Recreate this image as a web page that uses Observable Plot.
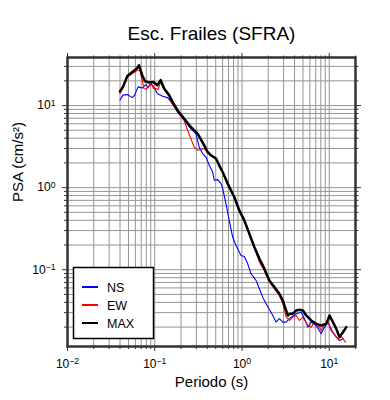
<!DOCTYPE html>
<html><head><meta charset="utf-8">
<script src="https://cdn.jsdelivr.net/npm/d3@7"></script>
<script src="https://cdn.jsdelivr.net/npm/@observablehq/plot@0.6"></script>
<style>body{margin:0;background:#fff;}</style>
</head><body><div id="chart"></div>
<script>
const title = "Esc. Frailes (SFRA)";
const xLabel = "Periodo (s)";
const yLabel = "PSA (cm/s²)";
const seriesNames = ["NS", "EW", "MAX"];
const seriesColors = ["#0000ff", "#ff0000", "#000000"];
const seriesWidths = [1.1, 1.1, 2.5];

const nsPeriod = [0.0399,0.0432,0.0486,0.0554,0.0589,0.0643,0.0722,0.0788,0.0838,0.0900,0.0966,0.107,0.123,0.140,0.160,0.182,0.217,0.259,0.296,0.323,0.353,0.386,0.421,0.461,0.481,0.526,0.574,0.600,0.655,0.714,0.782,0.853,0.974,1.063,1.163,1.269,1.449,1.581,1.729,1.887,2.154,2.459,2.68,2.94,3.21,3.35,3.66,4.18,4.77,5.20,5.69,6.21,7.09,8.09,8.83,9.66,10.54,12.03,13.13,14.36];
const nsPSA = [11.6,13.4,13.6,12.5,13.4,16.9,16.4,18.0,16.6,18.2,17.2,14.0,13.0,12.5,10.6,8.36,6.62,5.24,4.56,3.13,2.60,2.36,1.87,1.55,1.228,1.252,1.119,0.980,0.638,0.399,0.250,0.198,0.149,0.145,0.118,0.0893,0.0741,0.0586,0.0463,0.0385,0.0304,0.0230,0.0253,0.0230,0.0230,0.0241,0.0264,0.0291,0.0304,0.0253,0.0200,0.0230,0.0209,0.0166,0.0200,0.0230,0.0182,0.0151,0.0137,0.0144];

const ewPeriod = [0.0399,0.0432,0.0486,0.0554,0.0633,0.0678,0.0753,0.0809,0.086,0.0917,0.0966,0.103,0.109,0.117,0.128,0.146,0.153,0.190,0.217,0.238,0.259,0.283,0.310,0.338,0.369,0.403,0.440,0.503,0.548,0.600,0.685,0.816,0.931,1.063,1.213,1.385,1.581,1.804,2.06,2.35,2.68,2.94,3.21,3.51,3.83,4.18,4.56,4.99,5.69,6.21,6.78,7.42,8.09,8.83,9.66,11.03,12.59,13.74,15.39];
const ewPSA = [14.0,16.3,22.3,24.5,26.9,26.9,16.1,15.8,17.7,18.5,16.1,16.1,15.7,19.2,15.8,13.0,11.1,7.99,6.62,5.00,3.96,3.13,2.85,2.91,2.99,2.69,2.45,2.24,1.85,1.53,1.10,0.755,0.52,0.39,0.27,0.186,0.124,0.098,0.0706,0.0586,0.0486,0.0385,0.0264,0.0241,0.0264,0.0277,0.0241,0.0264,0.0209,0.0200,0.0230,0.0209,0.0182,0.0219,0.0230,0.0173,0.0144,0.0154,0.0131];

const maxPeriod = [0.0399,0.0432,0.0486,0.0554,0.0633,0.066,0.0722,0.0774,0.086,0.0966,0.107,0.117,0.128,0.146,0.160,0.182,0.217,0.259,0.310,0.369,0.403,0.440,0.503,0.548,0.600,0.685,0.816,0.931,1.063,1.213,1.385,1.581,1.804,2.06,2.35,2.68,2.94,3.06,3.21,3.35,3.59,3.83,4.18,4.56,4.99,5.44,6.21,7.09,8.09,9.24,10.08,11.03,12.03,13.13,14.36,15.7];
const maxPSA = [14.9,16.9,23.0,25.7,28.7,31.0,23.0,19.8,19.1,19.4,17.7,20.4,16.1,13.4,11.1,8.77,6.94,5.48,4.56,3.28,2.72,2.48,2.26,1.87,1.55,1.12,0.768,0.528,0.399,0.275,0.189,0.137,0.103,0.0741,0.0614,0.0510,0.0422,0.0367,0.0319,0.0277,0.0291,0.0291,0.0319,0.0325,0.0319,0.0277,0.0241,0.0219,0.0209,0.0219,0.0277,0.0230,0.0191,0.0151,0.0173,0.0200];

const xDomain = [0.01, 20];
const yDomain = [0.0116, 38.5];
const xMajor = [0.01, 0.1, 1, 10];
const yMajor = [0.1, 1, 10];
const xTickLabels = ["10^-2", "10^-1", "10^0", "10^1"];
const yTickLabels = ["10^-1", "10^0", "10^1"];

function minorTicks(dom) {
  const out = [];
  for (let e = -3; e <= 2; e++) for (let m = 2; m <= 9; m++) {
    const v = +(m * Math.pow(10, e)).toPrecision(3);
    if (v >= dom[0] && v <= dom[1]) out.push(v);
  }
  return out;
}
const xMinor = minorTicks(xDomain);
const yMinor = minorTicks(yDomain);

const rows = [];
[[nsPeriod, nsPSA], [ewPeriod, ewPSA], [maxPeriod, maxPSA]].forEach(([p, v], k) => {
  p.forEach((t, i) => rows.push({period: t, psa: v[i], comp: seriesNames[k]}));
});

const grid = {stroke: "#959595", strokeOpacity: 1, strokeWidth: 1};
const blank = () => "";
const fmtX = d => xTickLabels[xMajor.indexOf(d)];
const fmtY = d => yTickLabels[yMajor.indexOf(d)];

const chart = Plot.plot({
  width: 390, height: 400,
  marginTop: 57, marginRight: 35, marginBottom: 54, marginLeft: 67,
  style: {fontFamily: "'Liberation Sans', Arial, sans-serif", fontSize: "12px", background: "#fff", color: "#000"},
  x: {type: "log", domain: xDomain, label: null},
  y: {type: "log", domain: yDomain, label: null},
  marks: [
    Plot.gridX(xMinor.concat(xMajor), grid),
    Plot.gridY(yMinor.concat(yMajor), grid),
    ...seriesNames.map((s, k) => Plot.line(rows.filter(r => r.comp === s), {
      x: "period", y: "psa", stroke: seriesColors[k], strokeWidth: seriesWidths[k], strokeLinejoin: "round"
    })),
    Plot.axisX({ticks: xMajor, anchor: "bottom", tickSize: 5, tickPadding: 8, tickFormat: fmtX, label: null, stroke: "#333", fontSize: 12}),
    Plot.axisX({ticks: xMinor, anchor: "bottom", tickSize: 3, tickFormat: blank, label: null, stroke: "#333"}),
    Plot.axisX({ticks: xMajor, anchor: "top", tickSize: 5, tickFormat: blank, label: null, stroke: "#333"}),
    Plot.axisX({ticks: xMinor, anchor: "top", tickSize: 2.5, tickFormat: blank, label: null, stroke: "#333"}),
    Plot.axisY({ticks: yMajor, anchor: "left", tickSize: 5, tickPadding: 7, tickFormat: fmtY, label: null, stroke: "#333", fontSize: 12}),
    Plot.axisY({ticks: yMinor, anchor: "left", tickSize: 3, tickFormat: blank, label: null, stroke: "#333"}),
    Plot.axisY({ticks: yMajor, anchor: "right", tickSize: 5, tickFormat: blank, label: null, stroke: "#333"}),
    Plot.axisY({ticks: yMinor, anchor: "right", tickSize: 2.5, tickFormat: blank, label: null, stroke: "#333"}),
    Plot.frame({stroke: "#333", strokeWidth: 2.5}),
    Plot.text([title], {text: d => d, frameAnchor: "top", dy: -31, fontSize: 19, fill: "#000"}),
    Plot.text([xLabel], {text: d => d, frameAnchor: "bottom", dy: 40, fontSize: 15, fill: "#000"}),
    Plot.text([yLabel], {text: d => d, frameAnchor: "left", dx: -49, rotate: -90, fontSize: 15, fill: "#000"})
  ]
});

// superscript exponents in tick labels
d3.select(chart).selectAll("text").each(function () {
  const t = this.textContent;
  const m = /^10\^(-?\d+)$/.exec(t);
  if (m) {
    const sel = d3.select(this);
    sel.text("10");
    sel.append("tspan").attr("dy", "-0.45em").attr("font-size", "0.72em").text(m[1].replace("-", "\u2212"));
  }
});

// legend
const lg = d3.select(chart).append("g").attr("font-size", 12.5)
  .attr("font-family", "'Liberation Sans', Arial, sans-serif").attr("text-anchor", "start");
lg.append("rect").attr("x", 73.5).attr("y", 267.5).attr("width", 80).attr("height", 71)
  .attr("fill", "#fff").attr("stroke", "#000").attr("stroke-width", 1.5);
seriesNames.forEach((s, k) => {
  const y = 287 + k * 18;
  lg.append("line").attr("x1", 82).attr("x2", 98).attr("y1", y).attr("y2", y)
    .attr("stroke", seriesColors[k]).attr("stroke-width", 2);
  lg.append("text").attr("x", 107).attr("y", y + 4.5).attr("text-anchor", "start").attr("fill", "#000").text(s);
});

document.getElementById("chart").append(chart);
</script>
</body></html>
